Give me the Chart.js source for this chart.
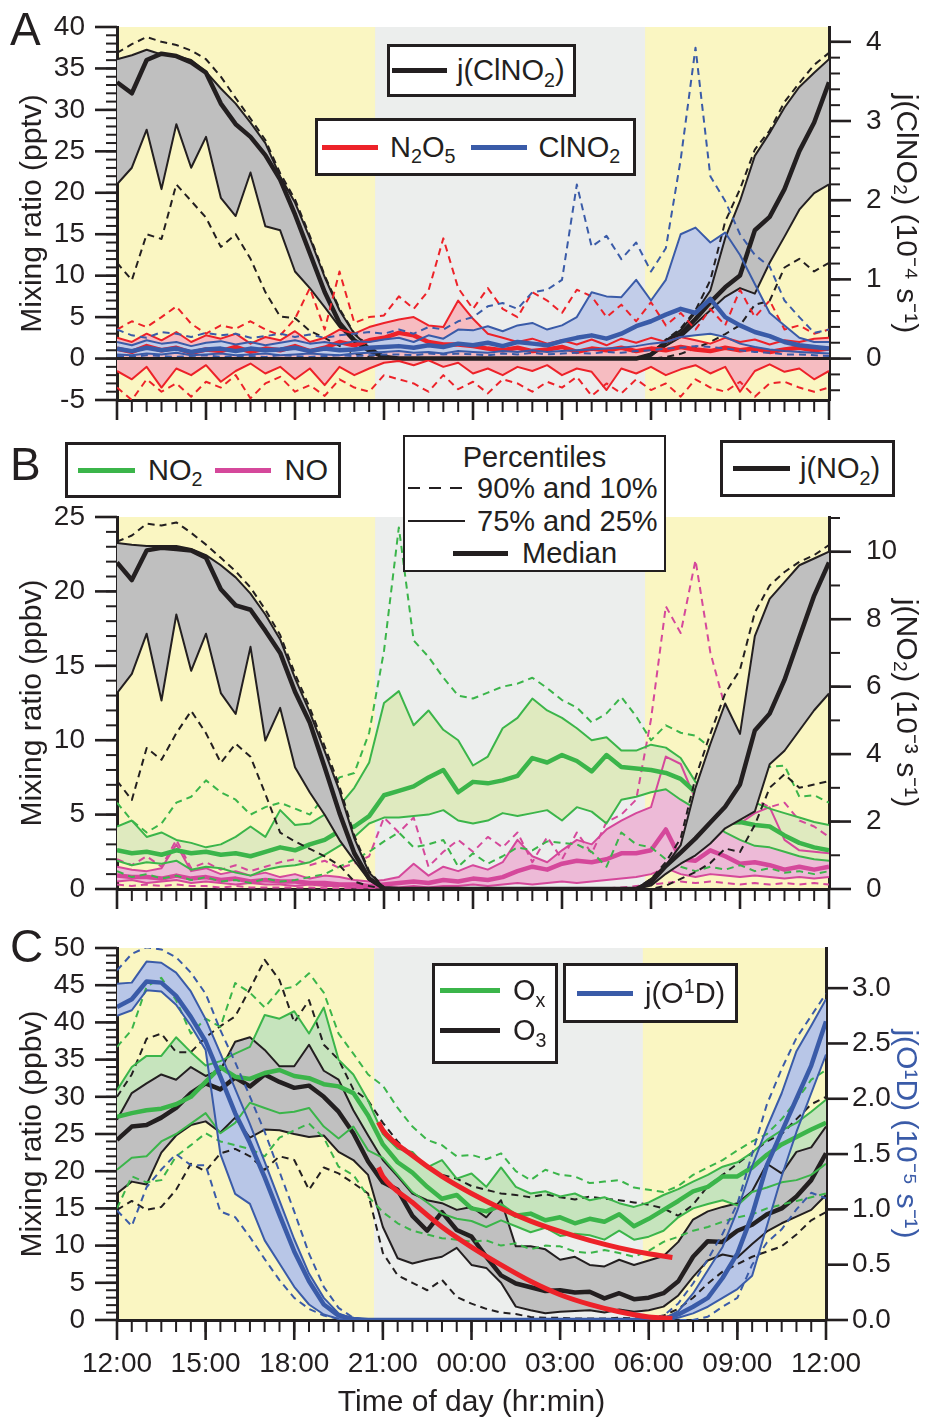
<!DOCTYPE html>
<html>
<head>
<meta charset="utf-8">
<script src="https://cdn.jsdelivr.net/npm/chart.js@4.4.1/dist/chart.umd.min.js"></script>
<style>
  body { margin: 0; width: 941px; height: 1421px; position: relative; overflow: hidden; background: #fff;
         font-family: 'Liberation Sans', Arial, sans-serif; color: #231f20; }
  canvas { position: absolute; left: 0; }
  .box { position: absolute; box-sizing: border-box; border: 3px solid #231f20; background: #fff;
         display: flex; align-items: center; font-size: 29px; line-height: 1; white-space: nowrap; }
  .sw { display: inline-block; height: 5px; }
  .abs { position: absolute; }
  sub, sup { font-size: 0.68em; line-height: 0; position: relative; vertical-align: baseline; }
  sub { top: 0.33em; }
  sup { top: -0.5em; }
  .letter { position: absolute; left: 10px; font-size: 46px; line-height: 46px; }
</style>
</head>
<body>
<canvas id="panelA" width="941" height="420" style="top:0"></canvas>
<canvas id="panelB" width="941" height="490" style="top:420px"></canvas>
<canvas id="panelC" width="941" height="501" style="top:920px"></canvas>

<div class="letter" style="top:6px">A</div>
<div class="letter" style="top:441px">B</div>
<div class="letter" style="top:923px">C</div>

<!-- panel A legends -->
<div class="box" style="left:387px;top:44px;width:189px;height:53px">
  <span class="sw" style="margin-left:2px;width:55px;background:#231f20"></span>
  <span style="margin-left:10px">j(ClNO<sub>2</sub>)</span>
</div>
<div class="box" style="left:315px;top:118px;width:321px;height:58px">
  <span class="sw" style="margin-left:4px;width:56px;background:#ed2229"></span>
  <span style="margin-left:12px">N<sub>2</sub>O<sub>5</sub></span>
  <span class="sw" style="margin-left:16px;width:56px;background:#3a5ba8"></span>
  <span style="margin-left:11px">ClNO<sub>2</sub></span>
</div>

<!-- panel B legends -->
<div class="box" style="left:65px;top:442px;width:276px;height:56px">
  <span class="sw" style="margin-left:10px;width:57px;background:#3bb54a"></span>
  <span style="margin-left:13px">NO<sub>2</sub></span>
  <span class="sw" style="margin-left:13px;width:56px;background:#d5489b"></span>
  <span style="margin-left:13px">NO</span>
</div>
<div class="box" style="left:403px;top:435px;width:263px;height:137px;border-width:2px;display:block">
  <span class="abs" style="left:0;width:100%;text-align:center;top:6px">Percentiles</span>
  <span class="abs" style="left:3px;top:50px;width:62px;height:2px;background:repeating-linear-gradient(to right,#231f20 0 12px,transparent 12px 21px)"></span>
  <span class="abs" style="left:72px;top:37px">90% and 10%</span>
  <span class="abs" style="left:3px;top:83px;width:57px;height:2px;background:#231f20"></span>
  <span class="abs" style="left:72px;top:70px">75% and 25%</span>
  <span class="abs" style="left:48px;top:114px;width:55px;height:5px;background:#231f20"></span>
  <span class="abs" style="left:117px;top:102px">Median</span>
</div>
<div class="box" style="left:720px;top:440px;width:175px;height:57px">
  <span class="sw" style="margin-left:10px;width:57px;background:#231f20"></span>
  <span style="margin-left:10px">j(NO<sub>2</sub>)</span>
</div>

<!-- panel C legends -->
<div class="box" style="left:432px;top:963px;width:126px;height:101px;display:block">
  <span class="abs" style="left:5px;top:22px;width:60px;height:5px;background:#3bb54a"></span>
  <span class="abs" style="left:78px;top:10px">O<sub>x</sub></span>
  <span class="abs" style="left:5px;top:62px;width:60px;height:5px;background:#231f20"></span>
  <span class="abs" style="left:78px;top:50px">O<sub>3</sub></span>
</div>
<div class="box" style="left:563px;top:963px;width:175px;height:60px">
  <span class="sw" style="margin-left:11px;width:56px;background:#3a5ba8"></span>
  <span style="margin-left:12px">j(O<sup>1</sup>D)</span>
</div>

<script>
// time of day as hours after 12:00 (12:00 -> 0, next 12:00 -> 24), 30 min steps
const hours = [0,0.5,1,1.5,2,2.5,3,3.5,4,4.5,5,5.5,6,6.5,7,7.5,8,8.5,9,9.5,10,10.5,11,11.5,12,
  12.5,13,13.5,14,14.5,15,15.5,16,16.5,17,17.5,18,18.5,19,19.5,20,20.5,21,21.5,22,22.5,23,23.5,24];
const xTicks = [0,3,6,9,12,15,18,21,24];
const xTickLabels = ['12:00','15:00','18:00','21:00','00:00','03:00','06:00','09:00','12:00'];
// sunset / sunrise (grey night band)
const nightSpan = [8.7, 17.8];

// ---- panel A ----
const yTicksA = [-5,0,5,10,15,20,25,30,35,40];
const y1TicksA = [0,1,2,3,4];
// j(ClNO2), 10^-4 s^-1
const jClno2P10 = [1.21,0.99,1.57,1.51,2.20,1.99,1.78,1.41,1.57,1.26,0.84,0.53,0.51,0.35,0.26,0.16,0.06,0.02,0,
  0,0,0,0,0,0,0,0,0,0,0,0,0,0,0,0,0,
  0,0.02,0.06,0.13,0.21,0.31,0.42,0.68,0.73,1.15,1.26,1.10,1.21];
const jClno2P25 = [2.20,2.41,2.89,2.14,2.96,2.41,2.80,2.03,1.80,2.35,1.67,1.62,1.10,0.89,0.65,0.40,0.21,0.09,0.02,
  0,0,0,0,0,0,0,0,0,0,0,0,0,0,0,0,0,
  0.04,0.16,0.27,0.44,0.61,0.78,0.89,0.82,1.21,1.54,1.88,2.09,2.20];
const jClno2Med = [3.49,3.35,3.77,3.85,3.82,3.74,3.61,3.22,2.96,2.80,2.57,2.26,1.82,1.33,0.84,0.45,0.23,0.10,0.02,
  0,0,0,0,0,0,0,0,0,0,0,0,0,0,0,0,0,
  0.05,0.21,0.31,0.50,0.71,0.90,1.05,1.62,1.79,2.14,2.62,2.98,3.49];
const jClno2P75 = [3.78,3.83,3.90,3.84,3.82,3.77,3.62,3.41,3.22,2.98,2.72,2.30,1.97,1.52,1.03,0.61,0.31,0.14,0.03,
  0,0,0,0,0,0,0,0,0,0,0,0,0,0,0,0,0,
  0.06,0.23,0.36,0.58,0.86,1.52,1.99,2.56,2.85,3.17,3.43,3.61,3.78];
const jClno2P90 = [3.86,3.97,4.06,4.00,3.96,3.89,3.78,3.56,3.29,3.03,2.76,2.34,2.01,1.55,1.05,0.63,0.32,0.15,0.03,
  0,0,0,0,0,0,0,0,0,0,0,0,0,0,0,0,0,
  0.06,0.24,0.38,0.61,0.99,1.73,2.14,2.64,2.88,3.24,3.48,3.71,3.86];
// N2O5, pptv
const n2o5P10 = [-3.5,-5.0,-2.5,-4.0,-3.0,-4.6,-2.8,-3.5,-2.0,-4.8,-3.0,-2.2,-4.0,-3.2,-4.5,-2.5,-3.5,-4.0,-2.0,
  -2.5,-3.0,-4.0,-2.0,-3.7,-2.8,-4.2,-2.5,-3.0,-4.0,-2.8,-3.5,-2.2,-4.5,-3.0,-4.2,-2.5,-3.8,-3.0,-4.6,
  -2.5,-3.5,-4.0,-2.8,-4.6,-3.0,-2.8,-3.5,-4.0,-3.5];
const n2o5P25 = [-1.5,-2.5,-1.0,-3.5,-1.2,-2.0,-0.8,-2.8,-1.5,-0.6,-1.8,-1.0,-2.5,-1.2,-3.2,-1.0,-2.0,-1.2,-0.5,
  -0.3,-0.8,-0.2,-1.0,-0.5,-1.8,-1.2,-2.0,-1.0,-1.5,-0.8,-2.0,-1.2,-1.6,-3.8,-1.2,-1.8,-1.0,-2.0,-1.3,
  -0.8,-1.8,-1.0,-4.0,-1.5,-0.7,-1.6,-1.2,-2.5,-1.5];
const n2o5Med = [1.2,0.8,1.5,1.0,1.3,0.7,1.1,0.9,1.4,0.8,1.2,1.0,1.5,0.9,1.3,2.0,1.6,2.2,2.5,
  3.1,2.8,2.0,1.7,1.7,1.5,1.2,1.0,1.3,0.9,1.1,1.4,0.8,1.2,1.0,1.3,0.9,1.2,1.0,1.4,
  1.1,0.9,1.3,1.0,1.2,0.8,1.1,1.3,1.0,1.2];
const n2o5P75 = [2.5,2.0,3.0,2.2,3.2,2.0,2.8,2.4,3.0,1.8,2.6,2.2,3.3,2.0,2.5,3.5,3.0,3.8,4.3,
  4.7,5.0,4.0,3.8,7.0,4.8,3.0,2.5,2.0,2.4,1.8,2.2,1.7,2.3,1.6,2.4,1.9,2.5,2.0,2.6,
  2.2,1.8,2.5,2.0,2.3,1.7,2.2,2.0,2.4,2.5];
const n2o5P90 = [3.5,4.5,3.8,5.0,6.3,4.2,3.0,4.0,3.6,4.5,3.5,2.8,4.8,8.5,3.5,10.5,4.3,5.0,5.2,
  7.5,6.0,8.2,14.5,8.5,6.0,8.5,6.0,5.0,8.0,7.0,5.5,8.3,7.5,5.0,6.5,4.5,6.8,4.0,5.5,
  3.5,6.0,4.0,8.3,5.0,7.0,3.5,4.0,3.0,3.5];
// ClNO2, pptv
const clno2P10 = [0.3,0.2,0.4,0.3,0.2,0.3,0.4,0.2,0.3,0.3,0.2,0.4,0.3,0.2,0.3,0.4,0.3,0.4,0.5,
  0.5,0.4,0.6,0.5,0.6,0.5,0.4,0.6,0.5,0.7,0.5,0.6,0.7,0.6,0.8,0.7,0.9,1.0,1.2,1.3,
  1.5,1.4,1.2,1.0,0.8,0.7,0.5,0.5,0.4,0.3];
const clno2P25 = [0.5,0.4,0.6,0.5,0.7,0.4,0.5,0.6,0.4,0.5,0.6,0.4,0.5,0.6,0.5,0.4,0.6,0.7,0.8,
  0.9,0.7,0.8,0.6,0.9,0.8,0.7,0.9,0.8,1.0,0.8,0.9,1.0,1.1,1.2,1.3,1.5,1.8,2.0,2.6,
  2.8,3.0,2.6,1.8,1.4,1.1,0.9,0.8,0.7,0.6];
const clno2Med = [1.2,0.9,1.3,1.0,1.2,0.8,1.1,1.2,0.9,1.2,1.0,1.1,1.3,0.9,1.2,1.0,1.1,1.3,1.4,
  1.5,1.3,1.6,1.4,1.8,1.6,1.9,1.5,2.0,1.8,1.6,2.1,2.5,2.8,2.4,3.0,3.9,4.5,5.3,6.0,
  5.5,7.2,5.0,4.0,3.2,2.7,2.0,1.6,1.4,1.2];
const clno2P75 = [2.0,1.6,2.2,1.8,2.0,1.5,1.9,2.1,1.7,2.0,1.6,1.9,2.2,1.8,2.0,1.7,2.1,2.0,2.3,
  2.5,2.0,2.8,2.4,3.5,3.4,3.9,3.3,4.0,4.3,3.5,4.0,5.0,8.0,7.5,7.4,9.5,7.0,9.5,15.0,
  15.8,14.0,15.2,12.5,9.0,5.5,4.0,2.5,2.0,2.0];
const clno2P90 = [3.5,2.8,2.5,3.2,3.0,2.6,3.1,2.8,3.0,2.5,2.7,3.0,2.6,2.9,2.5,2.8,3.0,3.2,3.0,
  3.5,3.0,3.8,3.5,4.5,5.0,6.3,6.7,6.0,8.0,8.3,9.5,21.0,13.5,14.8,12.0,14.0,10.5,13.3,24.0,
  37.5,22.0,19.0,15.0,12.5,11.1,7.0,5.0,3.1,3.5];

// ---- panel B ----
const yTicksB = [0,5,10,15,20,25];
const y1TicksB = [0,2,4,6,8,10];
// j(NO2), 10^-3 s^-1
const jNo2P10 = [3.21,2.64,4.18,3.83,4.62,5.28,4.62,3.74,4.31,3.92,2.82,1.67,1.41,1.19,0.97,0.70,0.22,0.09,0,
  0,0,0,0,0,0,0,0,0,0,0,0,0,0,0,0,0,
  0,0.1,0.3,0.5,0.77,1.2,1.1,1.9,3.0,3.4,3.0,3.1,3.2];
const jNo2P25 = [5.81,6.38,7.57,5.59,8.14,6.47,7.57,5.81,5.19,7.18,4.40,5.37,3.61,2.86,2.20,1.45,0.84,0.26,0.02,
  0,0,0,0,0,0,0,0,0,0,0,0,0,0,0,0,0,
  0.1,0.45,0.75,1.0,1.35,1.8,2.05,2.3,3.7,4.1,4.7,5.3,5.8];
const jNo2Med = [9.68,9.16,10.04,10.12,10.08,10.04,9.82,8.89,8.41,8.28,7.66,7.00,5.85,4.93,3.61,2.25,1.06,0.31,0.02,
  0,0,0,0,0,0,0,0,0,0,0,0,0,0,0,0,0,
  0.2,0.68,1.08,1.5,1.97,2.44,3.1,4.7,5.2,6.2,7.46,8.7,9.68];
const jNo2P75 = [10.26,10.21,10.17,10.17,10.17,10.08,9.90,9.60,9.24,8.76,8.14,7.40,6.25,5.24,4.09,2.91,1.50,0.48,0.04,
  0,0,0,0,0,0,0,0,0,0,0,0,0,0,0,0,0,
  0.3,0.7,1.3,3.0,4.3,5.5,4.6,7.5,8.6,9.1,9.6,9.8,10.0];
const jNo2P90 = [10.3,10.48,10.83,10.78,10.87,10.56,10.21,9.82,9.42,8.94,8.28,7.53,6.38,5.37,4.23,3.04,1.58,0.53,0.04,
  0,0,0,0,0,0,0,0,0,0,0,0,0,0,0,0,0,
  0.3,0.8,1.5,3.3,4.6,5.8,6.5,8.2,9.0,9.4,9.7,9.9,10.2];
// NO2, ppbv
const no2P10 = [1.2,0.8,1.0,0.7,0.9,0.6,0.8,0.5,0.6,0.4,0.7,0.5,0.6,0.8,1.0,1.5,2.0,2.5,3.2,3.8,
  2.8,3.0,3.3,1.5,2.4,1.7,2.2,2.8,2.6,3.2,3.1,3.0,2.5,1.5,3.8,3.0,2.8,2.0,1.5,1.2,
  1.5,1.3,1.6,1.2,1.4,1.1,1.2,1.0,1.2];
const no2P25 = [1.9,1.6,1.8,1.7,1.9,1.3,1.5,1.4,1.1,0.9,1.3,1.5,1.6,1.8,2.3,2.9,3.5,4.4,4.8,4.8,
  4.9,5.0,5.3,4.6,4.4,4.6,5.1,4.9,5.1,5.3,4.6,5.5,5.2,4.4,6.0,6.2,6.5,6.7,6.0,5.4,
  4.6,3.8,3.3,2.9,2.8,2.5,2.2,2.0,1.9];
const no2Med = [2.6,2.4,2.5,2.3,2.6,2.4,2.5,2.3,2.4,2.2,2.5,2.8,2.6,3.0,3.3,3.9,4.2,4.9,6.3,6.6,
  6.9,7.5,8.0,6.5,7.2,7.1,7.3,7.6,8.8,8.5,9.0,8.6,7.9,9.0,8.2,8.1,8.0,7.8,7.4,6.5,
  5.1,4.4,4.5,4.3,4.2,3.6,3.1,2.8,2.6];
const no2P75 = [4.2,4.6,3.5,3.8,3.3,3.1,2.8,3.0,3.5,4.2,3.5,5.3,4.3,4.4,5.0,5.6,6.8,8.5,12.5,13.3,
  11.0,12.0,10.7,10.0,8.3,8.9,10.8,11.5,12.8,12.0,11.5,10.8,10.0,10.2,9.3,9.3,9.7,9.5,8.8,7.2,
  6.4,6.2,6.6,5.8,5.4,5.1,4.8,4.5,4.3];
const no2P90 = [5.8,4.6,3.8,4.4,5.8,6.2,7.3,6.5,6.0,5.0,5.5,5.8,5.4,5.0,6.2,7.5,7.8,10.5,16.0,24.3,
  16.7,15.6,14.2,13.0,12.8,13.2,13.6,13.8,14.2,13.5,12.7,12.2,11.2,11.8,12.9,11.6,10.0,11.0,10.5,10.3,
  9.5,9.0,8.7,8.4,8.2,8.3,6.2,6.3,5.8];
// NO, ppbv
const noP10 = [0.3,0.2,0.3,0.2,0.3,0.2,0.2,0.1,0.2,0.1,0.1,0.1,0.1,0.1,
  0.05,0.05,0.05,0.05,0.05,0.05,0.05,0.05,0.05,0.05,0.05,0.05,0.05,0.05,0.05,0.05,0.05,0.05,0.05,0.05,
  0.1,0.2,0.3,0.4,0.5,0.4,0.5,0.4,0.3,0.4,0.3,0.4,0.3,0.4,0.3];
const noP25 = [0.5,0.6,0.4,0.5,0.6,0.4,0.5,0.4,0.3,0.4,0.3,0.3,0.2,0.3,0.2,0.2,0.1,0.1,0.1,0.1,
  0.2,0.1,0.2,0.2,0.3,0.2,0.3,0.4,0.3,0.4,0.5,0.4,0.5,0.6,0.7,0.8,1.0,1.4,1.0,0.8,
  1.0,0.9,0.8,0.9,0.8,0.7,0.8,0.7,0.8];
const noMed = [0.9,0.8,0.8,0.7,0.9,0.7,0.8,0.6,0.7,0.5,0.6,0.5,0.5,0.4,0.4,0.3,0.3,0.2,0.3,0.4,
  0.5,0.4,0.6,0.5,0.7,0.6,0.8,1.2,1.5,1.3,1.7,1.9,1.8,2.0,2.4,2.4,2.6,4.0,2.0,1.9,
  2.6,2.2,1.7,1.8,1.6,1.3,1.5,1.3,1.5];
const noP75 = [1.5,1.3,1.2,1.4,3.0,1.2,1.4,1.0,1.2,0.9,1.1,0.8,1.0,0.7,0.9,0.8,0.6,0.5,0.6,0.8,
  1.7,0.9,1.5,1.2,1.6,1.3,1.8,3.3,2.2,1.8,2.6,3.3,3.0,4.0,4.6,5.1,5.5,8.9,8.4,6.0,
  5.1,4.6,4.4,5.1,5.5,3.3,2.6,2.5,2.4];
const noP90 = [2.0,1.6,2.2,1.5,3.3,1.4,1.8,1.3,1.6,1.2,1.5,1.8,2.0,1.6,1.9,1.4,1.7,2.2,4.8,3.8,
  4.8,1.5,2.5,3.3,2.5,3.5,2.8,3.8,1.8,3.5,2.0,3.8,2.4,4.5,5.0,6.0,11.4,19.0,17.2,22.1,
  15.9,12.2,8.0,6.0,5.5,5.8,4.6,4.2,3.5];

// ---- panel C ----
const yTicksC = [0,5,10,15,20,25,30,35,40,45,50];
const y1TicksC = [0,0.5,1,1.5,2,2.5,3];
// j(O1D), 10^-5 s^-1
const jO1dP10 = [0.99,0.85,1.20,1.36,1.50,1.40,1.40,0.98,0.93,0.75,0.55,0.36,0.20,0.10,0.04,0.01,0,
  0,0,0,0,0,0,0,0,0,0,0,0,0,0,0,0,0,0,0,0,
  0,0,0,0.03,0.12,0.2,0.5,0.7,0.82,1.0,1.15,1.1];
const jO1dP25 = [2.75,2.80,2.98,2.97,2.85,2.66,2.44,1.50,1.14,1.05,0.72,0.51,0.30,0.14,0.05,0.01,0,
  0,0,0,0,0,0,0,0,0,0,0,0,0,0,0,0,0,0,0,0,
  0,0.02,0.06,0.12,0.2,0.28,0.4,0.85,1.3,1.7,2.05,2.4];
const jO1dMed = [2.83,2.90,3.06,3.05,2.93,2.74,2.52,2.20,1.87,1.60,1.29,0.95,0.62,0.35,0.14,0.04,0.01,
  0,0,0,0,0,0,0,0,0,0,0,0,0,0,0,0,0,0,0,0,
  0.01,0.05,0.12,0.2,0.38,0.6,0.95,1.4,1.7,2.0,2.3,2.7];
const jO1dP75 = [3.04,3.05,3.24,3.23,3.14,2.97,2.72,2.41,2.09,1.77,1.43,1.08,0.73,0.42,0.20,0.06,0.01,
  0,0,0,0,0,0,0,0,0,0,0,0,0,0,0,0,0,0,0,0,
  0.01,0.08,0.24,0.45,0.66,0.99,1.39,1.74,2.05,2.43,2.66,2.90];
const jO1dP90 = [3.16,3.31,3.37,3.35,3.28,3.14,2.95,2.62,2.33,2.02,1.70,1.34,0.98,0.60,0.30,0.11,0.02,
  0,0,0,0,0,0,0,0,0,0,0,0,0,0,0,0,0,0,0,0,
  0.04,0.15,0.33,0.55,0.78,1.05,1.5,1.95,2.27,2.55,2.75,2.95];
// O3, ppbv
const o3P10 = [14.8,16.0,14.8,15.2,17.5,21.0,20.0,22.4,23.0,22.0,20.2,22.0,21.5,17.5,20.5,19.7,18.4,17.0,9.0,6.0,
  5.0,4.0,5.4,3.1,2.2,1.5,1.0,0.8,0.4,0.3,0.3,0.2,0.2,0.2,0.3,0.2,0.3,0.6,1.5,3.0,
  4.9,6.5,7.5,8.5,9.2,9.9,11.5,13.4,14.5];
const o3P25 = [17.0,18.6,18.2,22.5,24.8,26.2,26.7,25.2,27.2,24.5,25.6,25.5,25.0,24.6,24.8,22.6,21.5,19.5,12.5,8.3,
  7.6,8.1,8.5,9.7,7.4,7.0,5.0,1.8,1.3,0.9,1.1,1.2,1.3,1.0,1.4,1.1,1.3,1.8,3.3,5.8,
  8.0,8.8,8.4,10.2,11.9,13.0,13.9,14.8,16.8];
const o3Med = [24.2,26.0,26.2,27.2,28.5,30.5,31.8,31.0,32.6,31.4,33.0,32.0,31.2,31.5,30.0,28.0,25.1,21.3,18.5,17.5,
  14.0,12.0,14.5,12.1,11.2,8.5,6.0,4.9,4.4,3.9,4.0,3.7,3.8,2.9,3.6,2.8,3.0,3.6,5.2,8.5,
  10.6,10.5,12.0,12.8,14.2,15.0,16.6,18.8,22.4];
const o3P75 = [26.9,30.5,31.8,33.0,32.3,34.0,32.8,33.6,37.4,38.0,36.3,34.1,34.1,37.0,33.5,32.3,28.2,24.8,21.5,19.3,
  17.0,16.1,15.7,14.8,15.2,13.8,16.1,9.9,9.9,9.5,8.1,8.5,7.4,7.2,8.1,7.4,8.0,8.6,10.5,13.5,
  14.6,15.2,15.7,17.3,21.0,19.7,22.6,23.2,26.0];
const o3P90 = [30.0,33.0,37.8,38.5,36.0,36.0,38.0,39.5,40.8,44.5,48.4,45.7,40.0,43.0,37.0,35.0,31.0,29.5,26.5,24.0,
  22.0,20.5,19.5,19.0,18.0,17.5,17.0,16.8,16.5,16.9,16.5,16.2,16.6,16.3,16.1,15.8,15.5,15.0,14.0,15.5,
  18.0,19.5,21.0,22.5,24.0,25.0,27.0,29.0,30.0];
// Ox, ppbv
const oxP10 = [15.0,19.3,18.5,18.8,22.0,23.5,25.1,24.0,23.5,23.0,22.0,24.5,25.5,26.4,24.5,20.6,19.5,16.6,14.5,13.0,
  12.0,11.5,11.0,10.8,10.5,10.7,10.0,10.3,9.5,10.0,9.9,9.2,9.0,9.4,9.0,8.5,9.3,10.5,11.2,12.0,
  12.5,13.2,13.8,14.2,15.0,15.5,16.0,16.5,17.0];
const oxP25 = [20.2,21.8,22.0,24.0,25.0,26.4,27.8,25.1,26.5,29.2,28.5,27.8,28.0,28.5,26.0,24.4,26.0,22.8,21.8,19.5,
  17.2,15.8,14.3,13.6,13.3,12.5,13.4,12.6,11.8,12.4,11.3,11.6,11.4,10.8,12.0,10.8,11.2,12.0,13.8,15.0,
  15.6,16.1,15.4,17.2,17.8,18.5,18.8,19.5,21.0];
const oxMed = [27.3,27.8,28.2,28.4,29.0,30.0,32.0,34.0,32.7,32.4,33.2,33.6,32.8,32.5,31.7,31.4,30.5,27.5,23.6,21.2,
  19.8,17.9,16.3,16.8,15.0,14.6,15.4,14.0,14.3,13.4,13.8,13.0,13.6,13.2,14.2,12.6,13.6,14.8,16.0,17.3,
  17.9,19.3,19.3,20.5,22.2,23.6,24.6,25.6,26.5];
const oxP75 = [30.9,34.0,35.5,35.5,38.0,36.0,34.2,34.8,35.8,36.7,41.0,40.5,41.5,38.5,42.0,35.0,33.0,29.5,25.0,23.0,
  22.6,20.5,21.5,19.0,19.7,17.9,20.5,17.9,17.0,17.3,16.6,17.0,16.1,16.5,15.7,15.2,15.8,16.8,17.6,18.6,
  19.5,20.6,21.2,22.5,24.2,25.5,26.5,28.0,29.6];
const oxP90 = [36.7,39.0,44.8,46.0,43.0,38.5,40.5,39.4,45.3,44.0,42.0,44.4,44.8,46.6,44.0,38.5,35.8,33.0,31.5,28.5,
  26.0,24.2,23.5,22.0,22.2,21.6,22.4,20.0,18.8,20.2,19.5,19.3,18.4,18.6,18.8,17.8,17.5,17.2,18.0,19.5,
  20.5,21.5,22.8,24.0,25.0,27.0,29.5,32.3,33.6];
// night-time decay fits (red)
const fitHours = [8.85,9,10,11,12,13,14,15,16,17,18,18.8];
const fitOx = [26.6,25.5,22.1,19.3,17.0,15.0,13.3,11.9,10.7,9.7,8.9,8.4];
const fitO3 = [20.5,19.3,15.8,12.5,9.8,7.4,5.2,3.4,2.1,1.1,0.4,0.2];

const INK = '#231f20';
const RED = '#ed2229';
const BLUE = '#3a5ba8';
const GREEN = '#3bb54a';
const MAGENTA = '#d5489b';
const DASH = [7, 5];

Chart.defaults.font.family = "'Liberation Sans', Arial, sans-serif";
Chart.defaults.font.size = 28;
Chart.defaults.color = INK;

function pts(arr, xs) {
  return arr.map((v, i) => ({ x: xs[i], y: v }));
}

// shaded area between 25% and 75% (no outline)
function bandFill(axis, fillColor, p25, p75) {
  return [
    { data: pts(p25, hours), yAxisID: axis, borderColor: 'transparent', borderWidth: 0, fill: false },
    { data: pts(p75, hours), yAxisID: axis, borderColor: 'transparent', borderWidth: 0, fill: '-1',
      backgroundColor: fillColor },
  ];
}

// the five percentile lines
function bandLines(axis, color, p10, p25, med, p75, p90) {
  const line = (arr, w, dash) => ({
    data: pts(arr, hours), yAxisID: axis, borderColor: color, borderWidth: w,
    borderDash: dash || [], fill: false,
  });
  return [line(p25, 2), line(p75, 2), line(med, 4.5), line(p10, 2, DASH), line(p90, 2, DASH)];
}

// first dataset in the list ends up at the bottom
function stack(...groups) {
  const all = [].concat(...groups);
  all.forEach((d, i) => { d.order = all.length - i; });
  return all;
}

const dayNight = {
  id: 'dayNight',
  beforeDraw(chart) {
    const { ctx, chartArea: a, scales: { x } } = chart;
    ctx.save();
    ctx.fillStyle = '#faf6c2';
    ctx.fillRect(a.left, a.top, a.right - a.left, a.bottom - a.top);
    const x0 = x.getPixelForValue(nightSpan[0]);
    const x1 = x.getPixelForValue(nightSpan[1]);
    ctx.fillStyle = '#eceeed';
    ctx.fillRect(x0, a.top, x1 - x0, a.bottom - a.top);
    ctx.restore();
  },
};

// major + minor tick marks drawn outside the plot
function tickMarks(marks) {
  return {
    id: 'tickMarks',
    afterDraw(chart) {
      const ctx = chart.ctx;
      ctx.save();
      ctx.strokeStyle = INK;
      Object.keys(marks).forEach((id) => {
        const s = chart.scales[id];
        const m = marks[id];
        const mark = (v, len, w) => {
          const p = s.getPixelForValue(v);
          ctx.lineWidth = w;
          ctx.beginPath();
          if (s.isHorizontal()) {
            ctx.moveTo(p, s.top); ctx.lineTo(p, s.top + len);
          } else if (s.position === 'left') {
            ctx.moveTo(s.right - len, p); ctx.lineTo(s.right, p);
          } else {
            ctx.moveTo(s.left, p); ctx.lineTo(s.left + len, p);
          }
          ctx.stroke();
        };
        if (m.minor) {
          for (let k = Math.ceil(s.min / m.minor - 1e-6); k * m.minor <= s.max + 1e-6; k++) {
            mark(k * m.minor, m.minorLen, 2);
          }
        }
        m.major.forEach((v) => mark(v, m.majorLen, 2.6));
      });
      ctx.restore();
    },
  };
}

const zeroLine = {
  id: 'zeroLine',
  afterDatasetsDraw(chart) {
    const { ctx, chartArea: a, scales: { y } } = chart;
    const p = y.getPixelForValue(0);
    ctx.save();
    ctx.strokeStyle = INK;
    ctx.lineWidth = 3;
    ctx.beginPath();
    ctx.moveTo(a.left, p);
    ctx.lineTo(a.right, p);
    ctx.stroke();
    ctx.restore();
  },
};

// invisible tick marks only used to push the labels away from the axis
const hiddenTicks = (len) => ({
  display: true, drawOnChartArea: false, drawTicks: true, tickLength: len, tickColor: 'rgba(0,0,0,0)',
});

function makeChart(id, cfg) {
  const border = { display: true, color: INK, width: 3 };
  return new Chart(document.getElementById(id), {
    type: 'line',
    data: { datasets: cfg.datasets },
    plugins: [dayNight, tickMarks(cfg.marks)].concat(cfg.extra || []),
    options: {
      responsive: false,
      animation: false,
      devicePixelRatio: 1,
      layout: { padding: { top: cfg.top, left: 0, right: 0, bottom: 0 } },
      elements: { point: { radius: 0 }, line: { tension: 0, borderJoinStyle: 'round' } },
      plugins: { legend: { display: false }, tooltip: { enabled: false } },
      scales: {
        x: {
          type: 'linear', min: 0, max: 24, grid: hiddenTicks(27), border,
          afterBuildTicks: (s) => { s.ticks = xTicks.map((v) => ({ value: v })); },
          ticks: { display: cfg.xLabels, padding: 0, maxRotation: 0, autoSkip: false,
                   callback: (v, i) => xTickLabels[i] },
          title: { display: cfg.xLabels, text: 'Time of day (hr:min)', font: { size: 30 },
                   padding: { top: 0, bottom: 0 } },
          afterFit: (s) => { s.height = cfg.xHeight; },
        },
        y: {
          type: 'linear', position: 'left', min: cfg.yRange[0], max: cfg.yRange[1],
          grid: hiddenTicks(30), border,
          afterBuildTicks: (s) => { s.ticks = cfg.yTicks.map((v) => ({ value: v })); },
          ticks: { padding: 2, autoSkip: false, callback: (v) => String(v) },
          title: { display: true, text: cfg.yTitle, font: { size: 30 }, padding: { top: 15, bottom: 0 } },
          afterFit: (s) => { s.width = 117; },
        },
        y1: {
          type: 'linear', position: 'right', min: cfg.y1Range[0], max: cfg.y1Range[1],
          grid: hiddenTicks(cfg.y1Gap), border,
          afterBuildTicks: (s) => { s.ticks = cfg.y1Ticks.map((v) => ({ value: v })); },
          ticks: { padding: 2, autoSkip: false, callback: cfg.y1Format || ((v) => String(v)) },
          title: { display: true, text: cfg.y1Title, color: cfg.y1Color || INK, font: { size: 30 },
                   padding: { top: 18, bottom: 0 } },
          afterFit: (s) => { s.width = 941 - cfg.right; },
        },
      },
    },
  });
}

makeChart('panelA', {
  top: 27, xHeight: 20, right: 829, xLabels: false,
  yRange: [-5, 40], yTicks: yTicksA, yTitle: 'Mixing ratio (pptv)',
  y1Range: [-0.523, 4.187], y1Ticks: y1TicksA, y1Gap: 35, y1Title: 'j(ClNO₂) (10⁻⁴ s⁻¹)',
  marks: {
    x: { major: xTicks, minor: 0.5, majorLen: 20, minorLen: 12 },
    y: { major: yTicksA, minor: 1, majorLen: 22, minorLen: 11 },
    y1: { major: y1TicksA, minor: 0.2, majorLen: 22, minorLen: 11 },
  },
  extra: [zeroLine],
  datasets: stack(
    bandFill('y', '#f6bcc1', n2o5P25, n2o5P75),
    bandFill('y', '#c2cde9', clno2P25, clno2P75),
    bandFill('y1', '#bfbfbf', jClno2P25, jClno2P75),
    bandLines('y1', INK, jClno2P10, jClno2P25, jClno2Med, jClno2P75, jClno2P90),
    bandLines('y', RED, n2o5P10, n2o5P25, n2o5Med, n2o5P75, n2o5P90),
    bandLines('y', BLUE, clno2P10, clno2P25, clno2Med, clno2P75, clno2P90)
  ),
});

makeChart('panelB', {
  top: 97, xHeight: 21, right: 829, xLabels: false,
  yRange: [0, 25], yTicks: yTicksB, yTitle: 'Mixing ratio (ppbv)',
  y1Range: [0, 11.03], y1Ticks: y1TicksB, y1Gap: 35, y1Title: 'j(NO₂) (10⁻³ s⁻¹)',
  marks: {
    x: { major: xTicks, minor: 0.5, majorLen: 20, minorLen: 12 },
    y: { major: yTicksB, minor: 1, majorLen: 22, minorLen: 11 },
    y1: { major: y1TicksB, minor: 1, majorLen: 22, minorLen: 11 },
  },
  datasets: stack(
    bandFill('y', '#edbad7', noP25, noP75),
    bandFill('y', '#dfeabf', no2P25, no2P75),
    bandLines('y', MAGENTA, noP10, noP25, noMed, noP75, noP90),
    bandLines('y', GREEN, no2P10, no2P25, no2Med, no2P75, no2P90),
    bandFill('y1', '#bfbfbf', jNo2P25, jNo2P75),
    bandLines('y1', INK, jNo2P10, jNo2P25, jNo2Med, jNo2P75, jNo2P90)
  ),
});

makeChart('panelC', {
  top: 28, xHeight: 101, right: 826, xLabels: true,
  yRange: [0, 50], yTicks: yTicksC, yTitle: 'Mixing ratio (ppbv)',
  y1Range: [0, 3.363], y1Ticks: y1TicksC, y1Gap: 24, y1Title: 'j(O¹D) (10⁻⁵ s⁻¹)', y1Color: BLUE,
  y1Format: (v) => v.toFixed(1),
  marks: {
    x: { major: xTicks, minor: 0.5, majorLen: 20, minorLen: 12 },
    y: { major: yTicksC, minor: 1, majorLen: 22, minorLen: 11 },
    y1: { major: y1TicksC, majorLen: 22 },
  },
  datasets: stack(
    bandFill('y', '#c6e4bd', oxP25, oxP75),
    bandFill('y', '#c0c0c0', o3P25, o3P75),
    bandFill('y1', '#b8c6e7', jO1dP25, jO1dP75),
    bandLines('y', INK, o3P10, o3P25, o3Med, o3P75, o3P90),
    bandLines('y', GREEN, oxP10, oxP25, oxMed, oxP75, oxP90),
    bandLines('y1', BLUE, jO1dP10, jO1dP25, jO1dMed, jO1dP75, jO1dP90),
    [
      { data: pts(fitOx, fitHours), yAxisID: 'y', borderColor: RED, borderWidth: 5, fill: false,
        cubicInterpolationMode: 'monotone' },
      { data: pts(fitO3, fitHours), yAxisID: 'y', borderColor: RED, borderWidth: 5, fill: false,
        cubicInterpolationMode: 'monotone' },
    ]
  ),
});
</script>
</body>
</html>
